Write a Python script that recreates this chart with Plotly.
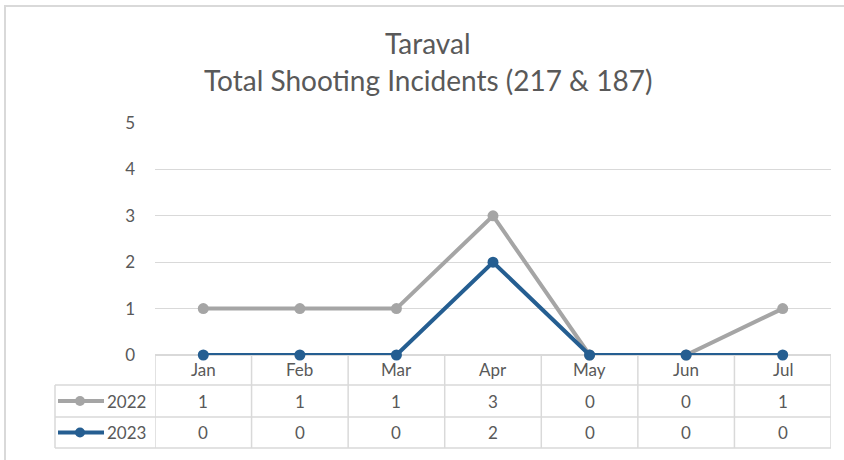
import plotly.graph_objects as go

months = ["Jan", "Feb", "Mar", "Apr", "May", "Jun", "Jul"]
series_names = ["2022", "2023"]
values_2022 = [1, 1, 1, 3, 0, 0, 1]
values_2023 = [0, 0, 0, 2, 0, 0, 0]
y_ticks = [0, 1, 2, 3, 4, 5]
title_lines = ["Taraval", "Total Shooting Incidents (217 & 187)"]

W, H = 844, 460
FONT = "Lato"
TXT = "#595959"
GRID = "#D9D9D9"
colors = ["#A5A5A5", "#255E91"]
series_vals = [values_2022, values_2023]


def px(x):
    return x / W


def py(y):
    return 1 - y / H


fig = go.Figure()
for name, vals, col in zip(series_names, series_vals, colors):
    fig.add_trace(go.Scatter(
        x=months, y=vals, name=name, mode="lines+markers",
        line=dict(color=col, width=4), marker=dict(color=col, size=11),
        cliponaxis=False, showlegend=False, hoverinfo="skip",
    ))

shapes = []
ann = []
# outer chart border
shapes.append(dict(type="rect", xref="paper", yref="paper", x0=px(5), x1=px(870),
                   y0=py(490), y1=py(6), line=dict(color=GRID, width=2), layer="below"))

table_top, row1, row2, row3 = 355, 385, 417, 448
left_edge, plot_left, plot_right = 55, 155, 831
for yy in [row1, row2, row3]:
    shapes.append(dict(type="line", xref="paper", yref="paper", x0=px(left_edge), x1=px(plot_right),
                       y0=py(yy), y1=py(yy), line=dict(color=GRID, width=1.5)))
shapes.append(dict(type="line", xref="paper", yref="paper", x0=px(left_edge), x1=px(left_edge),
                   y0=py(row1), y1=py(row3), line=dict(color=GRID, width=1.5)))
for i in range(len(months) + 1):
    shapes.append(dict(type="line", xref="x", yref="paper", x0=i - 0.5, x1=i - 0.5,
                       y0=py(table_top), y1=py(row3), line=dict(color=GRID, width=1.5)))

cell_font = dict(family=FONT, size=17, color=TXT)
for m in months:
    ann.append(dict(x=m, xref="x", y=py((table_top + row1) / 2 - 1), yref="paper", text=m,
                    xanchor="center", yanchor="middle", showarrow=False, font=cell_font))
for (r0, r1), name, vals, col in zip([(row1, row2), (row2, row3)], series_names, series_vals, colors):
    yc = py((r0 + r1) / 2)
    for m, v in zip(months, vals):
        ann.append(dict(x=m, xref="x", y=yc, yref="paper", text=str(v),
                        xanchor="center", yanchor="middle", showarrow=False, font=cell_font))
    ann.append(dict(x=px(148), xref="paper", y=yc, yref="paper", text=name, xanchor="right",
                    yanchor="middle", showarrow=False, font=cell_font))
    shapes.append(dict(type="line", xref="paper", yref="paper", x0=px(58), x1=px(104),
                       y0=yc, y1=yc, line=dict(color=col, width=4)))
    shapes.append(dict(type="circle", xref="paper", yref="paper", x0=px(75), x1=px(85),
                       y0=yc - 5 / H, y1=yc + 5 / H, fillcolor=col, line=dict(color=col, width=0)))

for t, yy in zip(title_lines, [43, 80]):
    ann.append(dict(x=px(428), xref="paper", y=py(yy), yref="paper", text=t, showarrow=False,
                    xanchor="center", yanchor="middle", font=dict(family=FONT, size=28, color=TXT)))

fig.update_layout(
    width=W, height=H, margin=dict(l=0, r=0, t=0, b=0, pad=0, autoexpand=False),
    paper_bgcolor="white", plot_bgcolor="white",
    shapes=shapes, annotations=ann, hovermode=False,
    xaxis=dict(domain=[px(plot_left), px(plot_right)], range=[-0.5, 6.5], showticklabels=False,
               showgrid=False, zeroline=False, showline=False, ticks="", automargin=False),
    yaxis=dict(domain=[py(table_top), py(123)], range=[0, 5], tickvals=y_ticks,
               showgrid=True, gridcolor=GRID, gridwidth=1, zeroline=True, zerolinecolor=GRID,
               zerolinewidth=1.5, ticks="", ticklabelstandoff=19, automargin=False,
               tickfont=cell_font),
)

fig.write_html("out.html", config={"displayModeBar": False, "staticPlot": True},
               post_script="document.body.style.margin='0';")
